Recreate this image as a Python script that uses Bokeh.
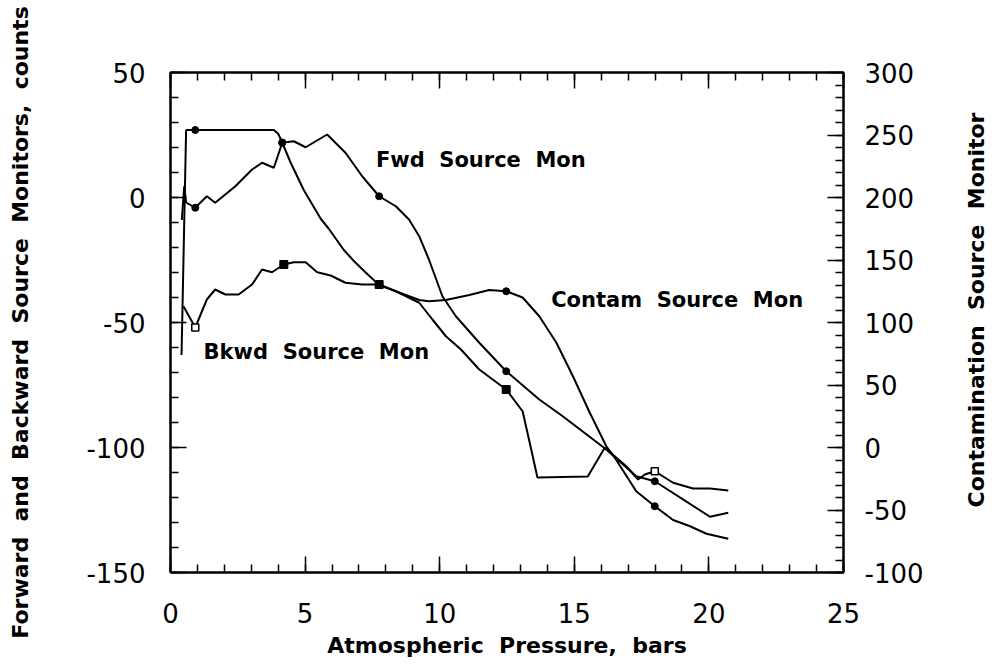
import math
from bokeh.plotting import figure
from bokeh.layouts import row
from bokeh.models import LinearAxis, Range1d, SingleIntervalTicker, PrintfTickFormatter
from bokeh.core.properties import value
from bokeh.embed import file_html
from bokeh.resources import INLINE

# ---- data ----
# Fwd Source Mon (left axis, counts)
fwd_x = [0.42, 0.51, 0.58, 0.92, 1.35, 1.66, 2.41, 3.03, 3.40, 3.84, 4.15, 4.58, 5.02, 5.82,
         6.50, 7.12, 7.75, 8.37, 8.86, 9.24, 9.60, 10.10, 10.60, 11.47, 12.47, 13.70, 14.57,
         16.19, 17.30, 17.99, 20.04, 20.72]
fwd_y = [-9.0, 4.5, -2.0, -4.1, 0.5, -2.1, 4.5, 11.2, 13.9, 11.9, 21.9, 22.5, 20.1, 25.2,
         17.9, 8.5, 0.5, -3.5, -8.8, -15.5, -24.8, -39.5, -47.5, -58.1, -69.5, -80.8, -87.5,
         -100.8, -111.5, -113.5, -127.7, -126.1]

# Bkwd Source Mon (left axis, counts)
bkwd_x = [0.48, 0.92, 1.35, 1.66, 2.04, 2.53, 3.03, 3.40, 3.77, 4.21, 4.58, 5.02, 5.45, 5.95,
          6.50, 7.12, 7.75, 8.37, 9.24, 9.73, 10.23, 10.79, 11.47, 12.47, 13.08, 13.40, 13.63,
          15.50, 16.13, 16.50, 16.93, 17.37, 17.62, 17.99, 18.67, 19.41, 20.04, 20.72]
bkwd_y = [-43.5, -52.0, -40.8, -36.8, -38.8, -38.8, -34.8, -28.8, -29.9, -26.8, -25.9, -25.9,
          -29.9, -31.2, -34.1, -34.8, -34.8, -37.5, -42.1, -48.8, -55.5, -60.8, -68.8, -76.8,
          -85.5, -100.8, -112.0, -111.6, -100.1, -103.5, -107.5, -112.8, -110.8, -109.5, -114.1,
          -116.4, -116.4, -117.2]

# Contam Source Mon (right axis)
contam_x = [0.41, 0.58, 0.92, 3.84, 4.00, 4.15, 4.46, 4.95, 5.58, 5.88, 6.44, 6.82, 7.25, 7.75,
            8.37, 9.24, 9.60, 10.23, 11.10, 11.84, 12.47, 13.08, 13.70, 14.33, 14.95, 15.57,
            16.19, 16.50, 17.30, 17.99, 18.67, 19.30, 19.91, 20.72]
contam_y = [74, 254, 254, 254, 251, 244, 228, 206, 183, 175, 158, 149, 140, 130,
            125, 118, 117, 118, 122, 126, 125, 120, 105, 84, 57, 28,
            1, -8, -35, -47, -58, -63, -69, -73]

# marked points
fwd_mx = [0.92, 4.15, 7.75, 12.47, 17.99]
fwd_my = [-4.1, 21.9, 0.5, -69.5, -113.5]
bkwd_mx_open = [0.92, 17.99]
bkwd_my_open = [-52.0, -109.5]
bkwd_mx_fill = [4.21, 7.75, 12.47]
bkwd_my_fill = [-26.8, -34.8, -76.8]
contam_mx = [0.92, 4.15, 7.75, 12.47, 17.99]
contam_my = [254, 244, 130, 125, -47]

# axis ranges / labels
x_lim = (0, 25)
left_lim = (-150, 50)
right_lim = (-100, 300)
x_title = "Atmospheric\u00a0 Pressure,\u00a0 bars"
left_title = "Forward\u00a0 and\u00a0 Backward\u00a0 Source\u00a0 Monitors,\u00a0 counts"
right_title = "Contamination\u00a0 Source\u00a0 Monitor"

FONT = "DejaVu Sans"

p = figure(frame_width=673, frame_height=500,
           x_range=Range1d(*x_lim), y_range=Range1d(*left_lim),
           output_backend="svg", toolbar_location=None,
           min_border_left=170, min_border_right=100,
           min_border_top=72, min_border_bottom=87)
p.extra_y_ranges = {"contam": Range1d(*right_lim)}

p.xgrid.grid_line_color = None
p.ygrid.grid_line_color = None
p.outline_line_color = "black"
p.outline_line_width = 2
p.background_fill_color = "white"
p.border_fill_color = "white"


def style_axis(ax, interval, label_size="26px"):
    ax.ticker = SingleIntervalTicker(interval=interval, num_minor_ticks=5)
    ax.formatter = PrintfTickFormatter(format="%d")
    ax.major_tick_in = 16
    ax.major_tick_out = 0
    ax.minor_tick_in = 8
    ax.minor_tick_out = 0
    ax.major_tick_line_width = 1.5
    ax.minor_tick_line_width = 1.5
    ax.major_tick_line_color = "black"
    ax.minor_tick_line_color = "black"
    ax.axis_line_color = "black"
    ax.axis_line_width = 2
    ax.major_label_text_font = FONT
    ax.major_label_text_font_size = label_size
    ax.major_label_text_color = "black"
    ax.axis_label_text_font = FONT
    ax.axis_label_text_font_style = "bold"
    ax.axis_label_text_font_size = "22px"
    ax.axis_label_text_color = "black"


xa = p.xaxis[0]
style_axis(xa, 5)
xa.axis_label = x_title
xa.major_label_standoff = 30
xa.axis_label_standoff = 7

ya = p.yaxis[0]
style_axis(ya, 50)
ya.axis_label = left_title
ya.major_label_standoff = 25
ya.axis_label_standoff = 50

ra = LinearAxis(y_range_name="contam")
style_axis(ra, 50)
ra.major_label_standoff = 21
p.add_layout(ra, "right")

ta = LinearAxis()
style_axis(ta, 5, label_size="1px")
ta.major_label_text_alpha = 0
p.add_layout(ta, "above")

# lines
p.line(fwd_x, fwd_y, line_color="black", line_width=2)
p.line(bkwd_x, bkwd_y, line_color="black", line_width=2)
p.line(contam_x, contam_y, line_color="black", line_width=2, y_range_name="contam")

# markers
p.scatter(fwd_mx, fwd_my, marker="circle", size=7, fill_color="black", line_color="black")
p.scatter(contam_mx, contam_my, marker="circle", size=7, fill_color="black",
          line_color="black", y_range_name="contam")
p.scatter(bkwd_mx_fill, bkwd_my_fill, marker="square", size=8, fill_color="black",
          line_color="black")
p.scatter(bkwd_mx_open, bkwd_my_open, marker="square", size=7, fill_color="white",
          line_color="black", line_width=1.5)

# curve labels
lab_x = [7.63, 1.23, 14.14]
lab_y = [15.2, -61.6, -40.8]
lab_t = ["Fwd\u00a0 Source\u00a0 Mon", "Bkwd\u00a0 Source\u00a0 Mon", "Contam\u00a0 Source\u00a0 Mon"]
p.text(lab_x, lab_y, text=lab_t, text_font=value(FONT), text_font_style="bold",
       text_font_size="21px", text_color="black", text_align="left", text_baseline="middle")

# narrow side panel carrying the right-hand axis title (reads bottom to top)
p2 = figure(frame_width=50, frame_height=500, x_range=Range1d(0, 50), y_range=p.y_range,
            x_axis_type=None, y_axis_type=None, output_backend="svg", toolbar_location=None,
            min_border_left=0, min_border_right=0, min_border_top=72, min_border_bottom=0)
p2.outline_line_color = None
p2.xgrid.grid_line_color = None
p2.ygrid.grid_line_color = None
p2.background_fill_color = "white"
p2.border_fill_color = "white"
p2.text([33], [-45], text=[right_title], angle=math.pi / 2, text_font=value(FONT),
        text_font_style="bold", text_font_size="22px", text_color="black",
        text_align="center", text_baseline="middle")

layout = row(p, p2)
open("out.html", "w").write(file_html(layout, INLINE))
